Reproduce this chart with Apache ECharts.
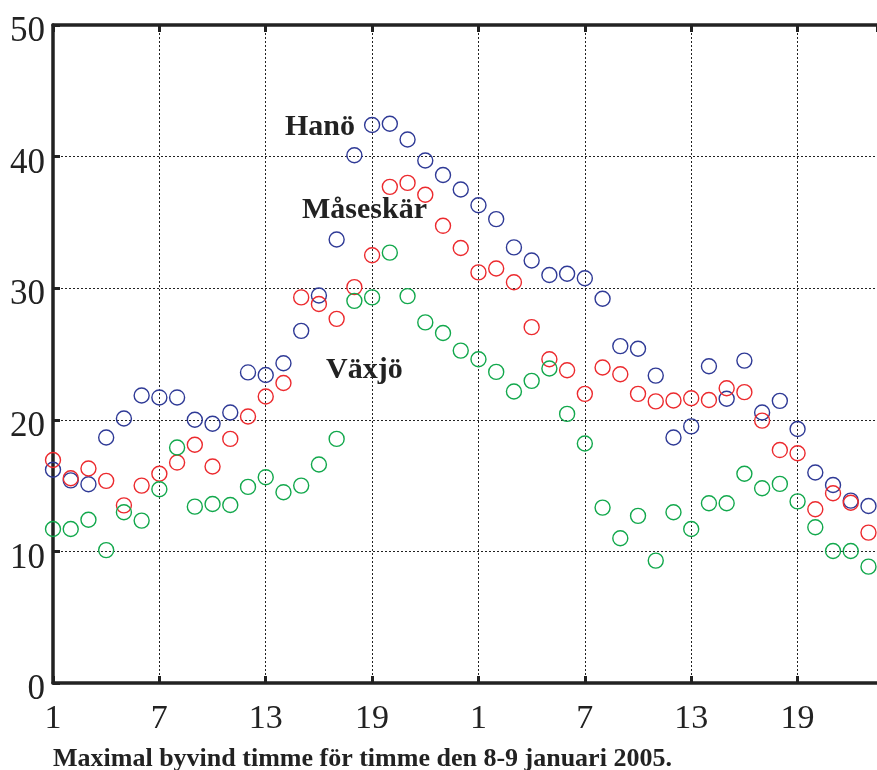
<!DOCTYPE html>
<html>
<head>
<meta charset="utf-8">
<script src="https://cdn.jsdelivr.net/npm/echarts@6/dist/echarts.min.js"></script>
<style>
html,body{margin:0;padding:0;background:#fff;}
#chart{width:877px;height:770px;}
</style>
</head>
<body>
<div id="chart"></div>
<script>
// Hour labels (two days, 8-9 januari 2005), ticks every 6 hours
var hours = [1,2,3,4,5,6,7,8,9,10,11,12,13,14,15,16,17,18,19,20,21,22,23,24,
             1,2,3,4,5,6,7,8,9,10,11,12,13,14,15,16,17,18,19,20,21,22,23];
var yTicks = [0,10,20,30,40,50];

var hano = [16.2,15.4,15.1,18.65,20.1,21.85,21.7,21.7,20.0,19.7,20.55,23.6,23.4,24.3,
            26.76,29.45,33.7,40.1,42.4,42.5,41.3,39.7,38.6,37.5,36.3,35.25,33.1,32.1,31.0,31.1,
            30.76,29.2,25.6,25.4,23.36,18.65,19.5,24.07,21.6,24.5,20.55,21.44,19.3,16.0,15.05,13.86,13.45];
var maseskar = [16.95,15.56,16.3,15.36,13.5,15.0,15.9,16.75,18.1,16.45,18.55,20.25,21.77,22.8,
            29.3,28.8,27.67,30.08,32.5,37.7,38.0,37.1,34.74,33.05,31.2,31.5,30.45,27.04,24.6,23.77,
            21.97,23.97,23.46,21.97,21.4,21.47,21.64,21.5,22.4,22.1,19.94,17.7,17.46,13.2,14.42,13.7,11.43];
var vaxjo = [11.7,11.7,12.4,10.1,12.97,12.34,14.72,17.9,13.4,13.6,13.53,14.9,15.64,14.5,
            15.0,16.6,18.55,29.04,29.3,32.7,29.4,27.4,26.6,25.26,24.6,23.64,22.15,22.96,23.9,20.45,
            18.2,13.33,11.0,12.7,9.3,12.97,11.7,13.66,13.66,15.9,14.8,15.13,13.8,11.84,10.03,10.03,8.84];

var stations = [
  {name:'Hanö', data:hano, color:'#2f3a96'},
  {name:'Måseskär', data:maseskar, color:'#ec2a2e'},
  {name:'Växjö', data:vaxjo, color:'#12a84c'}
];

var serif = '"Liberation Serif","DejaVu Serif",serif';
var chart = echarts.init(document.getElementById('chart'), null, {renderer:'canvas'});

function xAxisBase(extra){
  var a = {
    type:'value', min:0, max:46.48, interval:6,
    axisLine:{show:true, onZero:false, lineStyle:{color:'#222', width:3.5}},
    axisTick:{show:true, inside:true, length:7, lineStyle:{color:'#222', width:3}},
    splitLine:{show:false},
    axisLabel:{show:false}
  };
  for (var k in extra) a[k] = extra[k];
  return a;
}

var option = {
  animation:false,
  backgroundColor:'#fff',
  grid:{left:53, right:0, top:25, bottom:87, containLabel:false},
  xAxis:[
    xAxisBase({
      position:'bottom',
      splitLine:{show:true, lineStyle:{color:'#222', type:[2,2], width:1}},
      axisLabel:{show:true, showMaxLabel:false, margin:19, color:'#222',
        fontFamily:serif, fontSize:34,
        formatter:function(v){ return hours[Math.round(v)]; }}
    }),
    xAxisBase({position:'top'})
  ],
  yAxis:{
    type:'value', min:0, max:50, interval:10,
    axisLine:{show:true, lineStyle:{color:'#222', width:3.5}},
    axisTick:{show:true, inside:true, length:7, lineStyle:{color:'#222', width:3}},
    splitLine:{show:true, lineStyle:{color:'#222', type:[2,2], width:1}},
    axisLabel:{show:true, margin:8, color:'#222', fontFamily:serif, fontSize:35,
      verticalAlign:'top', lineHeight:14,
      formatter:function(v){ return yTicks.indexOf(v) >= 0 ? String(v) : ''; }}
  },
  series: stations.map(function(s){
    return {
      name:s.name, type:'scatter', xAxisIndex:0,
      symbol:'circle', symbolSize:15,
      itemStyle:{color:'rgba(0,0,0,0)', borderColor:s.color, borderWidth:1.4, opacity:1},
      data:s.data.map(function(v,i){ return [i,v]; }),
      clip:true
    };
  }),
  graphic:[
    {type:'text', left:285, top:112, style:{text:'Hanö', font:'bold 30px '+serif, fill:'#222'}},
    {type:'text', left:302, top:195, style:{text:'Måseskär', font:'bold 30px '+serif, fill:'#222'}},
    {type:'text', left:326, top:355, style:{text:'Växjö', font:'bold 30px '+serif, fill:'#222'}},
    {type:'text', left:53, top:746, style:{text:'Maximal byvind timme för timme den 8-9 januari 2005.', font:'bold 26px '+serif, fill:'#222'}}
  ]
};
chart.setOption(option);
</script>
</body>
</html>
